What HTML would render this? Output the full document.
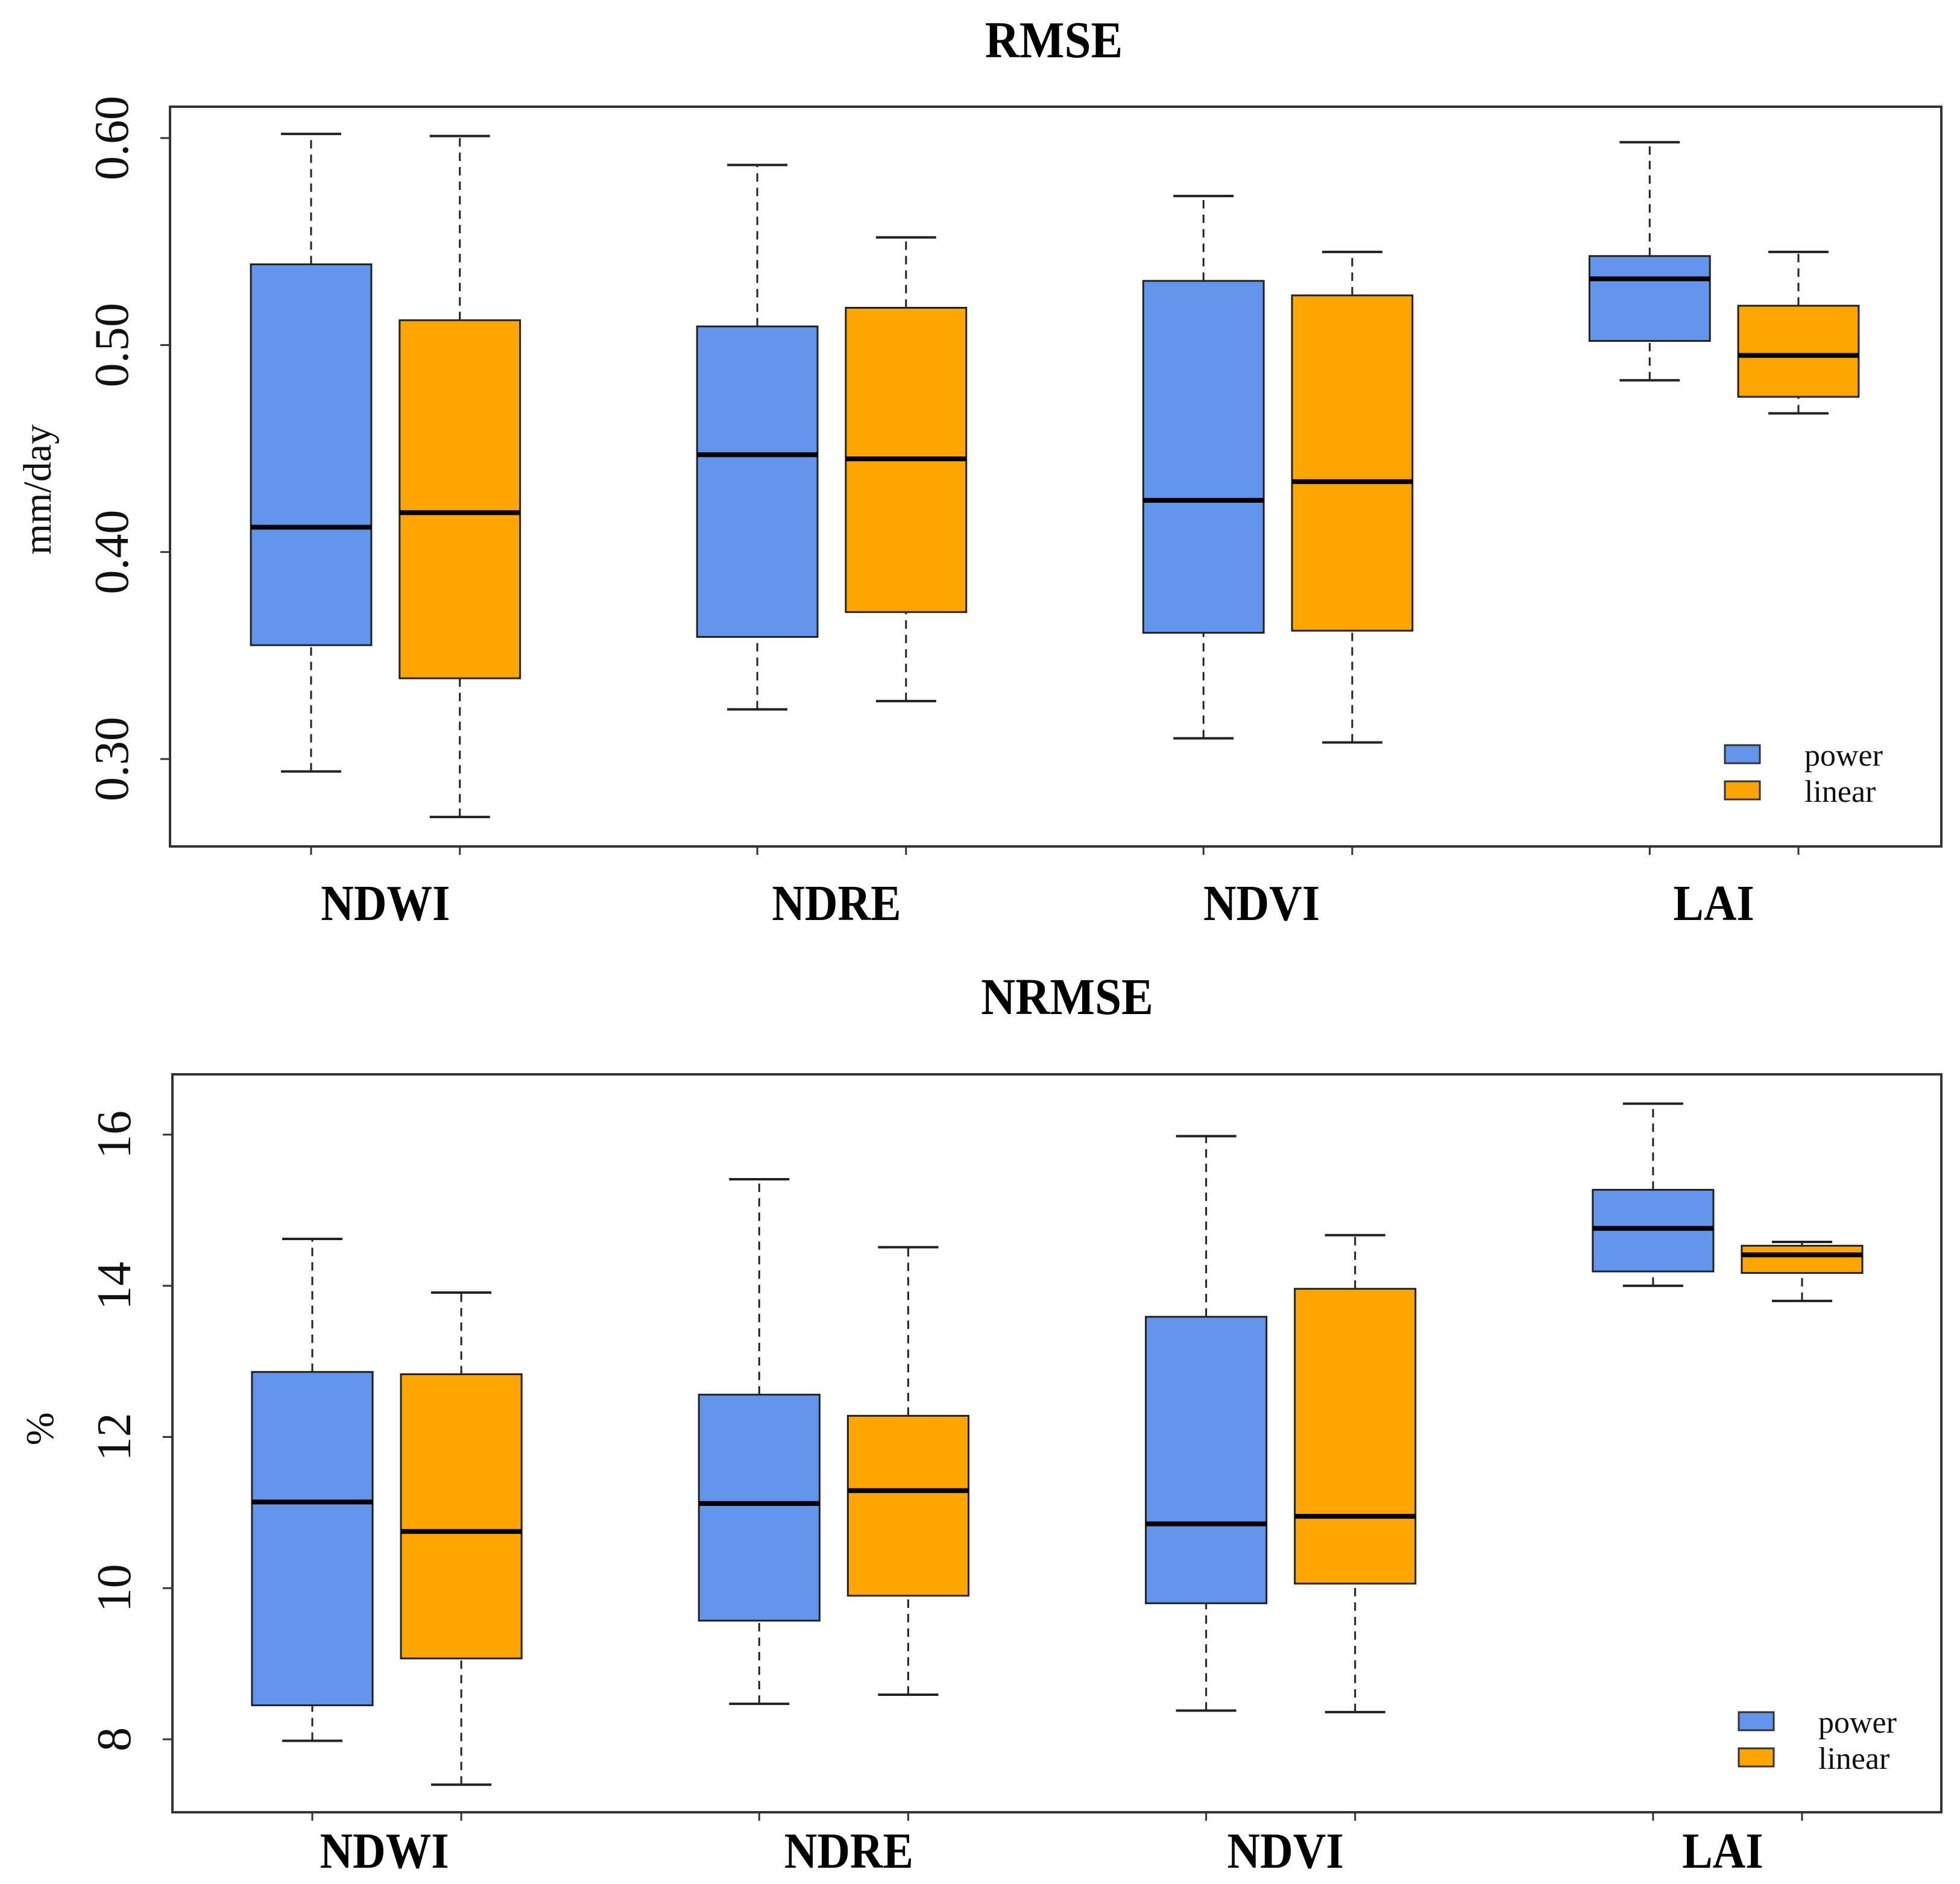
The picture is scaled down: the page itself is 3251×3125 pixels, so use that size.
<!DOCTYPE html>
<html><head><meta charset="utf-8"><style>
html,body{margin:0;padding:0;background:#fff;}
svg{display:block;font-family:"Liberation Serif",serif;}
</style></head>
<body>
<svg id="chart" width="3251" height="3125" viewBox="0 0 3251 3125"></svg>
<script>
const categories = ["NDWI","NDRE","NDVI","LAI"];
const seriesNames = ["power","linear"];
// each entry: [lowerWhisker, Q1, median, Q3, upperWhisker]
const rmsePower  = [[0.294,0.355,0.412,0.539,0.602],[0.324,0.359,0.447,0.509,0.587],[0.310,0.361,0.425,0.531,0.572],[0.483,0.502,0.532,0.543,0.598]];
const rmseLinear = [[0.272,0.339,0.419,0.512,0.601],[0.328,0.371,0.445,0.518,0.552],[0.308,0.362,0.434,0.524,0.545],[0.467,0.475,0.495,0.519,0.545]];
const nrmsePower  = [[7.98,8.45,11.14,12.86,14.62],[8.47,9.57,11.12,12.56,15.41],[8.38,9.80,10.85,13.59,15.98],[14.00,14.19,14.76,15.27,16.41]];
const nrmseLinear = [[7.40,9.07,10.75,12.83,13.91],[8.59,9.90,11.29,12.28,14.51],[8.36,10.06,10.95,13.96,14.67],[13.80,14.17,14.41,14.53,14.58]];
const rmseTicks = [0.30,0.40,0.50,0.60];
const rmseTickLabels = ["0.30","0.40","0.50","0.60"];
const nrmseTicks = [8,10,12,14,16];
const nrmseTickLabels = ["8","10","12","14","16"];

const NS="http://www.w3.org/2000/svg";
const svg=document.getElementById('chart');
const colors=["#6495ED","#FFA500"];
function mk(tag,attrs,parent){const e=document.createElementNS(NS,tag);for(const k in attrs)e.setAttribute(k,attrs[k]);(parent||svg).appendChild(e);return e;}

function panel(cfg){
  const g=mk('g',{});
  
  
  const yScale=v=>cfg.y0px+(v-cfg.y0v)*(cfg.y1px-cfg.y0px)/(cfg.y1v-cfg.y0v);
  const xScale=p=>cfg.x1+(p-1)*cfg.unit;
  const bw=cfg.unit*0.81;
  const t=mk('text',{x:cfg.titleX,y:cfg.titleY,'text-anchor':'middle','font-size':86,'font-weight':'bold',fill:'#000',transform:`translate(${cfg.titleX} 0) scale(0.92 1) translate(${-cfg.titleX} 0)`},g);
  t.textContent=cfg.title;
  
  
  const fr=mk('rect',{x:cfg.left,y:cfg.top,width:cfg.right-cfg.left,height:cfg.bottom-cfg.top,fill:'none',stroke:'#333',"stroke-width":4},g);
  
  
  cfg.ticks.forEach((v,i)=>{
    const y=yScale(v);
    const tk=mk('line',{x1:cfg.left-16,x2:cfg.left,y1:y,y2:y,stroke:'#333','stroke-width':3},g);
    
    
    const lx=cfg.left-70;
    const lb=mk('text',{x:lx,y:y,'text-anchor':'middle','font-size':80,fill:'#111',transform:`rotate(-90 ${lx} ${y})`},g);
    lb.textContent=cfg.tickLabels[i];
    
    
  });
  const yt=mk('text',{x:cfg.yTitleX,y:cfg.yTitleY,'text-anchor':'middle','font-size':66,fill:'#111',transform:`rotate(-90 ${cfg.yTitleX} ${cfg.yTitleY})`},g);
  yt.textContent=cfg.yTitle;
  
  
  categories.forEach((c,ci)=>{
    [cfg.power,cfg.linear].forEach((ser,si)=>{
      const pos=ci*3+1+si;
      const cx=xScale(pos);
      const d=ser[ci];
      const bg=mk('g',{},g);
      
      
      const xt=mk('line',{x1:cx,x2:cx,y1:cfg.bottom,y2:cfg.bottom+14,stroke:'#333','stroke-width':3},g);
      
      
      mk('line',{x1:cx,x2:cx,y1:yScale(d[0]),y2:yScale(d[1]),stroke:'#222','stroke-width':3,'stroke-dasharray':'14 10'},bg);
      mk('line',{x1:cx,x2:cx,y1:yScale(d[3]),y2:yScale(d[4]),stroke:'#222','stroke-width':3,'stroke-dasharray':'14 10'},bg);
      mk('line',{x1:cx-bw/4,x2:cx+bw/4,y1:yScale(d[0]),y2:yScale(d[0]),stroke:'#222','stroke-width':4},bg);
      mk('line',{x1:cx-bw/4,x2:cx+bw/4,y1:yScale(d[4]),y2:yScale(d[4]),stroke:'#222','stroke-width':4},bg);
      mk('rect',{x:cx-bw/2,y:yScale(d[3]),width:bw,height:yScale(d[1])-yScale(d[3]),fill:colors[si],stroke:'#222','stroke-width':3},bg);
      mk('line',{x1:cx-bw/2,x2:cx+bw/2,y1:yScale(d[2]),y2:yScale(d[2]),stroke:'#000','stroke-width':8},bg);
    });
    const lx=(xScale(ci*3+1)+xScale(ci*3+2))/2+cfg.catShift[ci];
    const lbl=mk('text',{x:lx,y:cfg.catY,'text-anchor':'middle','font-size':84,'font-weight':'bold',fill:'#000',transform:`translate(${lx} 0) scale(0.9 1) translate(${-lx} 0)`},g);
    lbl.textContent=c;
    
    
  });
  seriesNames.forEach((s,si)=>{
    const le=mk('g',{},g);
    
    
    mk('rect',{x:cfg.legX,y:cfg.legY+si*60,width:58,height:30,fill:colors[si],stroke:'#333','stroke-width':3},le);
    const lt=mk('text',{x:cfg.legX+132,y:cfg.legY+si*60+34,'font-size':52,fill:'#111'},le);
    lt.textContent=s;
  });
}

panel({name:'rmse-panel',title:'RMSE',titleX:1748,titleY:95,left:282,right:3220,top:177,bottom:1404,
  y0v:0.30,y0px:1259,y1v:0.60,y1px:229,ticks:rmseTicks,tickLabels:rmseTickLabels,
  x1:516,unit:246.7,power:rmsePower,linear:rmseLinear,yTitle:'mm/day',yTitleX:84,yTitleY:812,
  catY:1526,catShift:[0,8,-27,-17],legX:2861,legY:1236});
panel({name:'nrmse-panel',title:'NRMSE',titleX:1770,titleY:1682,left:286,right:3220,top:1782,bottom:3006,
  y0v:8,y0px:2885,y1v:16,y1px:1882,ticks:nrmseTicks,tickLabels:nrmseTickLabels,
  x1:518,unit:247.1,power:nrmsePower,linear:nrmseLinear,yTitle:'%',yTitleX:88,yTitleY:2370,
  catY:3098,catShift:[-4,25,8,-8],legX:2884,legY:2840});
</script>
</body></html>
